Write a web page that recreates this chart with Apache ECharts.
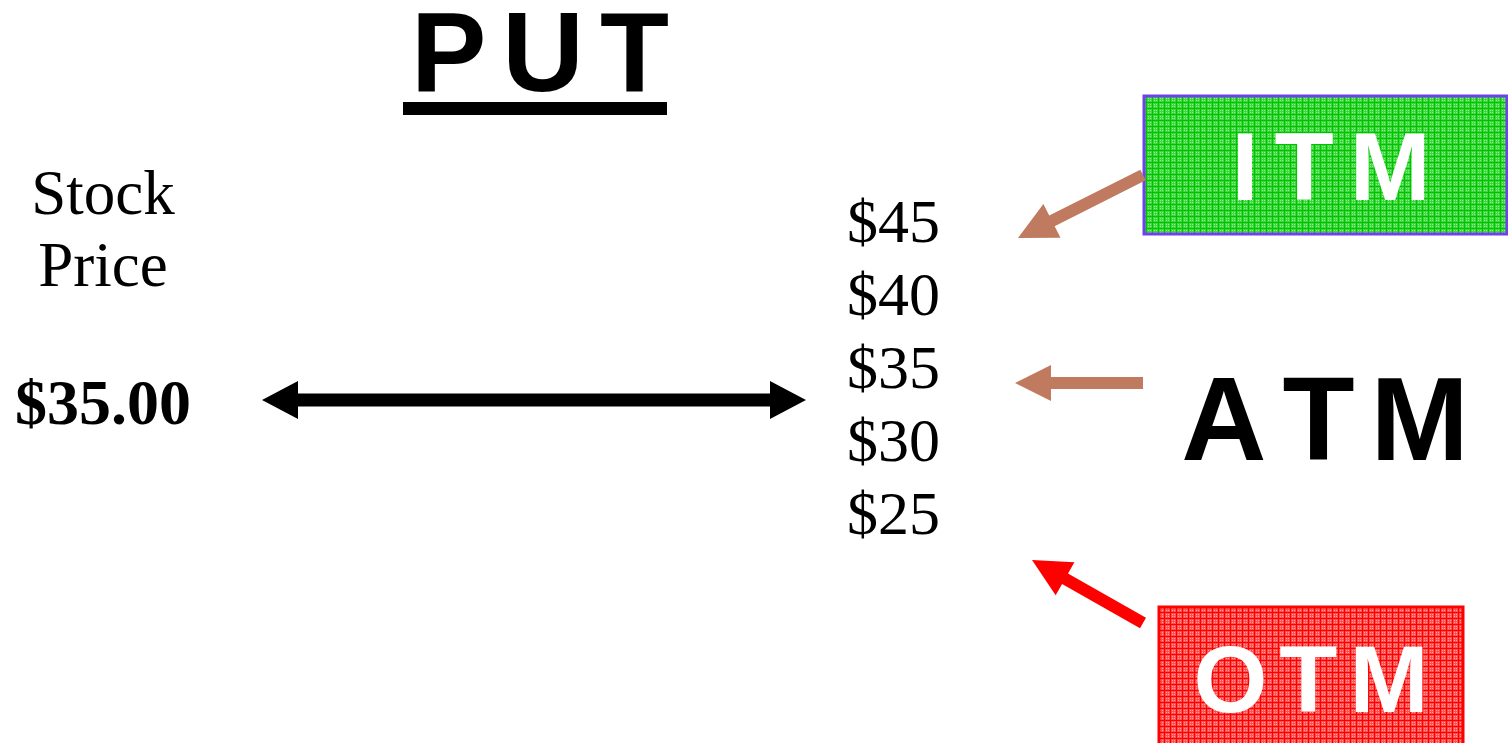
<!DOCTYPE html>
<html><head><meta charset="utf-8">
<script src="https://cdn.jsdelivr.net/npm/echarts@6/dist/echarts.min.js"></script>
<style>html,body{margin:0;padding:0;background:#fff;overflow:hidden}#c{width:1508px;height:743px}</style>
</head><body><div id="c"></div>
<script>
// ---- data ----
const titleText = 'PUT';
const stockLabelLines = ['Stock', 'Price'];
const stockPrice = 35.00;
const strikePrices = [45, 40, 35, 30, 25];
const strikeLabels = strikePrices.map(p => '$' + p);
const moneynessLabels = ['ITM', 'ATM', 'OTM'];

// ---- helpers ----
function makePattern(base, line, dot) {
  const c = document.createElement('canvas');
  c.width = 6; c.height = 6;
  const g = c.getContext('2d');
  g.fillStyle = base; g.fillRect(0, 0, 6, 6);
  g.fillStyle = dot;
  g.fillRect(2, 2, 1, 1); g.fillRect(4, 4, 1, 1); g.fillRect(2, 4, 1, 1); g.fillRect(4, 2, 1, 1);
  g.fillStyle = line;
  g.fillRect(0, 0, 6, 1); g.fillRect(0, 0, 1, 6);
  return c;
}
function arrowPoints(x1, y1, x2, y2, w, L, H, both) {
  const dx = x2 - x1, dy = y2 - y1, len = Math.hypot(dx, dy);
  const ux = dx / len, uy = dy / len, nx = -uy, ny = ux;
  const bx = x2 - ux * L, by = y2 - uy * L;
  let sx = x1, sy = y1;
  const pts = [];
  if (both) {
    sx = x1 + ux * L; sy = y1 + uy * L;
    pts.push([x1, y1], [sx + nx * H / 2, sy + ny * H / 2], [sx + nx * w / 2, sy + ny * w / 2]);
  } else {
    pts.push([x1 + nx * w / 2, y1 + ny * w / 2]);
  }
  pts.push([bx + nx * w / 2, by + ny * w / 2], [bx + nx * H / 2, by + ny * H / 2], [x2, y2],
           [bx - nx * H / 2, by - ny * H / 2], [bx - nx * w / 2, by - ny * w / 2]);
  if (both) {
    pts.push([sx - nx * w / 2, sy - ny * w / 2], [sx - nx * H / 2, sy - ny * H / 2]);
  } else {
    pts.push([x1 - nx * w / 2, y1 - ny * w / 2]);
  }
  return pts;
}
// spaced bold sans text via rich tokens (one text element, letters padded)
function spacedText(x, y, word, size, color, pad) {
  return {
    type: 'text', x: x, y: y,
    style: {
      text: word.split('').map(ch => '{s|' + ch + '}').join(''),
      align: 'center', verticalAlign: 'middle',
      rich: {s: {fontSize: size, fontWeight: 'bold', fontFamily: sans, fill: color, padding: [0, pad, 0, pad]}}
    }
  };
}

const greenPat = makePattern('#3fd63f', '#00c400', '#8ff08f');
const redPat = makePattern('#ff5050', '#ff0000', '#ffa0a0');
const brown = '#c07a60';
const sans = '"Liberation Sans", Arial, sans-serif';
const serif = '"Liberation Serif", "Times New Roman", serif';

const chart = echarts.init(document.getElementById('c'), null, {renderer: 'canvas'});
const pxPerDollar = 14.7;
chart.setOption({
  animation: false,
  backgroundColor: '#ffffff',
  grid: {left: 0, right: 0, top: 0, bottom: 0},
  xAxis: {type: 'value', min: 0, max: 1508, show: false},
  yAxis: {type: 'value', min: 25 - 227 / pxPerDollar, max: 45 + 228 / pxPerDollar, show: false},
  series: [{
    type: 'scatter',
    symbolSize: 0,
    itemStyle: {color: '#000', opacity: 1},
    data: strikePrices.map(p => [847, p]),
    label: {
      show: true, position: 'right', distance: 0,
      formatter: (p) => strikeLabels[p.dataIndex],
      fontFamily: serif, fontSize: 62, color: '#000', opacity: 1,
      textBorderWidth: 0
    },
    emphasis: {disabled: true}
  }],
  graphic: {elements: [
    // title
    spacedText(540, 60, titleText, 113, '#000', 8),
    {type: 'rect', shape: {x: 403, y: 102, width: 264, height: 13}, style: {fill: '#000'}},
    // stock price label
    {type: 'text', x: 103, y: 197, style: {text: stockLabelLines[0], font: '63px ' + serif, fill: '#000', align: 'center', verticalAlign: 'middle'}},
    {type: 'text', x: 103, y: 269, style: {text: stockLabelLines[1], font: '63px ' + serif, fill: '#000', align: 'center', verticalAlign: 'middle'}},
    {type: 'text', x: 103, y: 407, style: {text: '$' + stockPrice.toFixed(2), font: 'bold 64px ' + serif, fill: '#000', align: 'center', verticalAlign: 'middle'}},
    // double arrow
    {type: 'polygon', shape: {points: arrowPoints(262, 400, 806, 400, 13, 36, 38, true)}, style: {fill: '#000'}},
    // ITM box
    {type: 'rect', shape: {x: 1144, y: 96, width: 363, height: 138}, style: {fill: {image: greenPat, repeat: 'repeat'}, stroke: '#7040f0', lineWidth: 3}},
    spacedText(1331, 173, moneynessLabels[0], 97, '#fff', 8),
    // ATM
    spacedText(1325, 427, moneynessLabels[1], 118, '#000', 8),
    // OTM box
    {type: 'rect', shape: {x: 1159, y: 607, width: 304, height: 145}, style: {fill: {image: redPat, repeat: 'repeat'}, stroke: '#ff0000', lineWidth: 3}},
    spacedText(1311, 686, moneynessLabels[2], 95, '#fff', 6),
    // arrows
    {type: 'polygon', shape: {points: arrowPoints(1143, 175, 1018, 238, 12, 38, 38, false)}, style: {fill: brown}},
    {type: 'polygon', shape: {points: arrowPoints(1143, 383, 1015, 383, 12, 36, 36, false)}, style: {fill: brown}},
    {type: 'polygon', shape: {points: arrowPoints(1143, 623, 1032, 560, 12, 38, 38, false)}, style: {fill: '#ff0000'}}
  ]}
});
</script>
</body></html>
